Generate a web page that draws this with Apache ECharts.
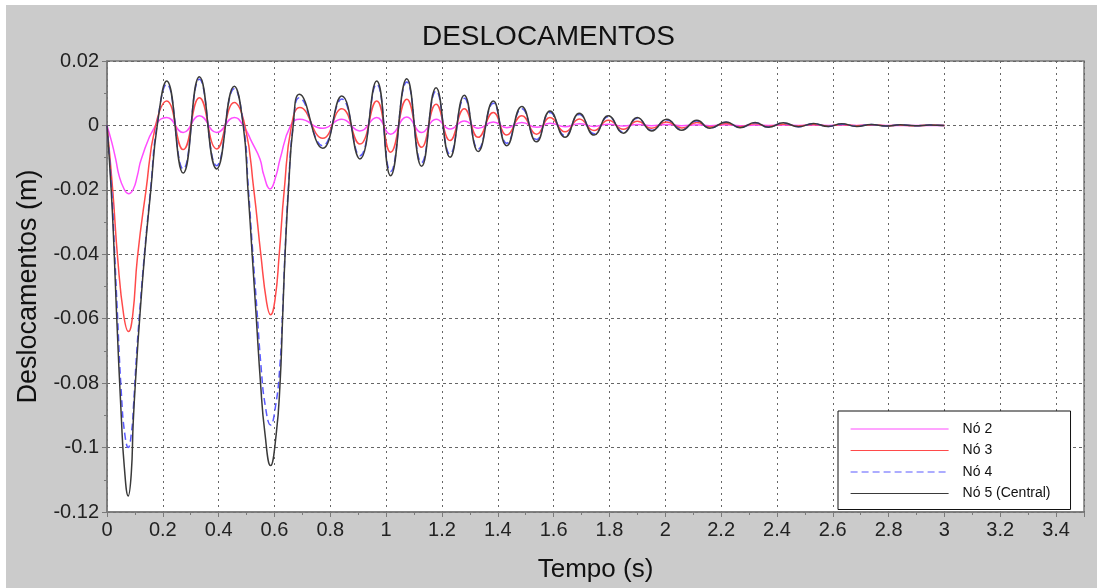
<!DOCTYPE html>
<html>
<head>
<meta charset="utf-8">
<script src="https://cdn.jsdelivr.net/npm/echarts@6/dist/echarts.min.js"></script>
<style>
  html, body { margin:0; padding:0; background:#ffffff; }
  #bg { position:absolute; left:6px; top:5px; width:1091px; height:583px; background:#cbcbcb; }
  #chart { position:absolute; left:0; top:0; width:1097px; height:588px; }
</style>
</head>
<body>
<div id="bg"></div>
<div id="chart"></div>
<script>
// ---- data ----
const seriesNames = ['Nó 2', 'Nó 3', 'Nó 4', 'Nó 5 (Central)'];
const xTicks = [0, 0.2, 0.4, 0.6, 0.8, 1, 1.2, 1.4, 1.6, 1.8, 2, 2.2, 2.4, 2.6, 2.8, 3, 3.2, 3.4];
const yTicks = [0.02, 0, -0.02, -0.04, -0.06, -0.08, -0.1, -0.12];

// head part (impacts), per node
const n2HeadT = [0, 0.017, 0.031, 0.043, 0.060, 0.077, 0.094, 0.109, 0.123, 0.174, 0.214, 0.273, 0.331, 0.393, 0.456, 0.488, 0.519, 0.548, 0.562, 0.584, 0.606, 0.620, 0.658, 0.691];
const n2HeadV = [0, -0.0052, -0.0104, -0.0155, -0.0195, -0.0212, -0.0198, -0.0155, -0.0104, 0, 0.0025, -0.0022, 0.0030, -0.0022, 0.0025, 0, -0.0052, -0.0104, -0.0155, -0.0197, -0.0155, -0.0104, 0, 0.0019];

const n3HeadT = [0, 0.021, 0.038, 0.060, 0.077, 0.092, 0.109, 0.139, 0.174, 0.214, 0.273, 0.331, 0.393, 0.456, 0.494, 0.526, 0.551, 0.572, 0.586, 0.602, 0.617, 0.635, 0.661, 0.691];
const n3HeadV = [0, -0.0206, -0.041, -0.059, -0.064, -0.059, -0.041, -0.0206, 0, 0.0076, -0.0075, 0.0086, -0.0073, 0.0071, 0, -0.020, -0.040, -0.055, -0.0588, -0.054, -0.040, -0.020, 0, 0.0056];

const n4HeadT = [0, 0.016, 0.026, 0.036, 0.052, 0.064, 0.076, 0.088, 0.095, 0.106, 0.117, 0.135, 0.157, 0.179, 0.214, 0.273, 0.331, 0.393, 0.456, 0.489, 0.506, 0.521, 0.537, 0.552, 0.567, 0.586, 0.604, 0.619, 0.629, 0.638, 0.650, 0.667, 0.689];
const n4HeadV = [0, -0.019, -0.037, -0.056, -0.084, -0.096, -0.100, -0.095, -0.087, -0.071, -0.058, -0.039, -0.019, 0, 0.0128, -0.0135, 0.0143, -0.0125, 0.0114, 0, -0.019, -0.038, -0.057, -0.075, -0.087, -0.093, -0.087, -0.075, -0.058, -0.039, -0.019, 0, 0.0086];

const n5HeadT = [0, 0.015, 0.025, 0.034, 0.051, 0.062, 0.076, 0.087, 0.094, 0.106, 0.117, 0.135, 0.157, 0.180, 0.214, 0.273, 0.331, 0.393, 0.456, 0.488, 0.505, 0.520, 0.535, 0.550, 0.565, 0.586, 0.606, 0.620, 0.629, 0.638, 0.650, 0.667, 0.689];
const n5HeadV = [0, -0.020, -0.038, -0.058, -0.090, -0.106, -0.115, -0.108, -0.092, -0.074, -0.060, -0.040, -0.020, 0, 0.0138, -0.0148, 0.0151, -0.0135, 0.0122, 0, -0.020, -0.040, -0.060, -0.080, -0.095, -0.1056, -0.096, -0.080, -0.060, -0.040, -0.020, 0, 0.0097];

// free-vibration tail, shared times (peaks / troughs)
const tailT = [0.773, 0.841, 0.906, 0.966, 1.016, 1.074, 1.127, 1.179, 1.229, 1.280, 1.330, 1.384, 1.432, 1.486, 1.539, 1.587, 1.641, 1.692, 1.745, 1.796, 1.850, 1.900, 1.951, 2.005, 2.059, 2.113, 2.160, 2.218, 2.268, 2.322, 2.369, 2.423, 2.477, 2.531, 2.584, 2.632, 2.686, 2.738, 2.790, 2.842, 2.895, 2.947, 3.000];
const n2TailV = [-0.0009, 0.0019, -0.0017, 0.0025, -0.0027, 0.0026, -0.0022, 0.0019, -0.0011, 0.0014, -0.0009, 0.0011, -0.0007, 0.0009, -0.0006, 0.0007, -0.0004, 0.0005, -0.0003, 0.0004, -0.0002, 0.0003, -0.0001, 0.0003, -0.0001, 0.0002, -0.0001, 0.0002, -0.0001, 0.0001, 0, 0.0001, 0, 0.0001, 0, 0.0001, 0, 0.0001, 0, 0, 0, 0, 0];
const n3TailV = [-0.0040, 0.0052, -0.0058, 0.0076, -0.0083, 0.0081, -0.0068, 0.0066, -0.0047, 0.0052, -0.0037, 0.0040, -0.0030, 0.0030, -0.0027, 0.0025, -0.0020, 0.0020, -0.0016, 0.0016, -0.0012, 0.0013, -0.0009, 0.0011, -0.0008, 0.0009, -0.0005, 0.0006, -0.0004, 0.0005, -0.0003, 0.0004, -0.0002, 0.0003, -0.0002, 0.0003, -0.0001, 0.0002, -0.0001, 0.0001, -0.0001, 0.0001, 0];
const n4TailV = [-0.0063, 0.0082, -0.0094, 0.0128, -0.0143, 0.0135, -0.0115, 0.0107, -0.0089, 0.0084, -0.0073, 0.0069, -0.0055, 0.0052, -0.0044, 0.0040, -0.0032, 0.0034, -0.0026, 0.0027, -0.0021, 0.0022, -0.0015, 0.0017, -0.0013, 0.0014, -0.0008, 0.0010, -0.0006, 0.0008, -0.0005, 0.0007, -0.0004, 0.0005, -0.0003, 0.0004, -0.0002, 0.0003, -0.0002, 0.0002, -0.0001, 0.0001, 0];
const n5TailV = [-0.0071, 0.0091, -0.0104, 0.0138, -0.0156, 0.0145, -0.0127, 0.0117, -0.0099, 0.0094, -0.0081, 0.0076, -0.0063, 0.0059, -0.0051, 0.0045, -0.0037, 0.0038, -0.0030, 0.0030, -0.0024, 0.0025, -0.0017, 0.0019, -0.0015, 0.0016, -0.0009, 0.0011, -0.0007, 0.0009, -0.0006, 0.0008, -0.0004, 0.0006, -0.0003, 0.0005, -0.0003, 0.0003, -0.0002, 0.0002, -0.0001, 0.0001, 0];

// ---- build ----
function pairs(headT, headV, tailV) {
  const out = [];
  headT.forEach((t, i) => out.push([t, headV[i]]));
  tailT.forEach((t, i) => out.push([t, tailV[i]]));
  return out;
}
const fmt = v => String(parseFloat((+v).toFixed(2)));
const FONT = '"Liberation Sans", Arial, sans-serif';

const chart = echarts.init(document.getElementById('chart'), null, {renderer: 'canvas'});
chart.setOption({
  backgroundColor: 'transparent',
  animation: false,
  title: {
    text: 'DESLOCAMENTOS', left: 'center', top: 18,
    textStyle: {fontSize: 28, fontWeight: 'normal', color: '#111', fontFamily: FONT}
  },
  grid: {
    left: 107, right: 13, top: 61, bottom: 73, show: true,
    backgroundColor: '#ffffff', borderColor: '#7a7a7a', borderWidth: 1.5
  },
  legend: {
    orient: 'vertical', left: 838, top: 411,
    backgroundColor: '#ffffff', borderColor: '#111', borderWidth: 1,
    padding: [11, 20, 9, 12], itemWidth: 98, itemHeight: 14, itemGap: 7.5,
    itemStyle: {opacity: 0},
    lineStyle: {width: 1.2},
    textStyle: {fontSize: 14, color: '#111', fontFamily: FONT, padding: [0, 0, 0, 9]},
    data: seriesNames
  },
  xAxis: {
    type: 'value', min: 0, max: 3.5, interval: 0.2,
    name: 'Tempo (s)', nameLocation: 'middle', nameGap: 45,
    nameTextStyle: {fontSize: 26, color: '#111', fontFamily: FONT},
    axisLine: {show: true, onZero: false, lineStyle: {color: '#7a7a7a', width: 1.5}},
    axisTick: {show: true, length: 5, lineStyle: {color: '#7a7a7a'}},
    minorTick: {show: true, splitNumber: 2, length: 3, lineStyle: {color: '#7a7a7a'}},
    axisLabel: {
      fontSize: 20, color: '#222', fontFamily: FONT, margin: 8,
      showMaxLabel: false,
      formatter: v => (xTicks.some(t => Math.abs(t - v) < 1e-6) ? fmt(v) : '')
    },
    splitLine: {show: true, lineStyle: {color: '#666', width: 1, type: [2, 4]}}
  },
  yAxis: {
    type: 'value', min: -0.12, max: 0.02, interval: 0.02,
    name: 'Deslocamentos (m)', nameLocation: 'middle', nameGap: 57,
    nameTextStyle: {fontSize: 27, color: '#111', fontFamily: FONT},
    axisLine: {show: true, lineStyle: {color: '#7a7a7a', width: 1.5}},
    axisTick: {show: true, length: 5, lineStyle: {color: '#7a7a7a'}},
    minorTick: {show: true, splitNumber: 2, length: 3, lineStyle: {color: '#7a7a7a'}},
    axisLabel: {
      fontSize: 20, color: '#222', fontFamily: FONT, margin: 8,
      formatter: v => (yTicks.some(t => Math.abs(t - v) < 1e-6) ? fmt(v) : '')
    },
    splitLine: {show: true, lineStyle: {color: '#666', width: 1, type: [3, 3]}}
  },
  series: [
    {name: seriesNames[0], type: 'line', symbol: 'none', smooth: 0.5,
     lineStyle: {color: '#ff4dff', width: 1.5}, itemStyle: {color: '#ff4dff'},
     data: pairs(n2HeadT, n2HeadV, n2TailV)},
    {name: seriesNames[1], type: 'line', symbol: 'none', smooth: 0.5,
     lineStyle: {color: '#ff4a4a', width: 1.5}, itemStyle: {color: '#ff4a4a'},
     data: pairs(n3HeadT, n3HeadV, n3TailV)},
    {name: seriesNames[2], type: 'line', symbol: 'none', smooth: 0.5,
     lineStyle: {color: '#5a5aff', width: 1.5, type: [7, 4]}, itemStyle: {color: '#5a5aff'},
     data: pairs(n4HeadT, n4HeadV, n4TailV)},
    {name: seriesNames[3], type: 'line', symbol: 'none', smooth: 0.5,
     lineStyle: {color: '#3a3a3a', width: 1.5}, itemStyle: {color: '#3a3a3a'},
     data: pairs(n5HeadT, n5HeadV, n5TailV)}
  ]
});
</script>
</body>
</html>
